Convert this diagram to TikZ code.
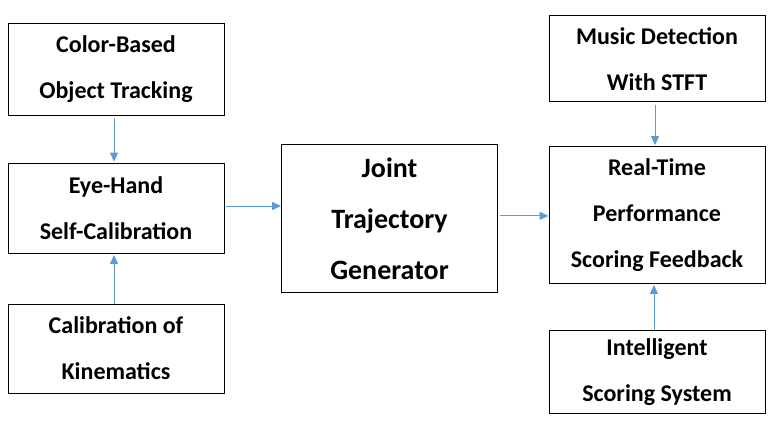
\documentclass[tikz,border=0pt]{standalone}
\usepackage{fontspec}
\setmainfont{Carlito}
\usetikzlibrary{arrows.meta,positioning}
\definecolor{linkblue}{HTML}{5B9BD5}

\begin{document}
\begin{tikzpicture}[
x=1pt,y=-1pt,
font=\bfseries\fontsize{24}{46}\selectfont,
block/.style={draw,line width=0.9pt,align=center,inner sep=0pt,minimum width=216pt},
link/.style={-{Triangle[length=9pt,width=8pt]},linkblue,line width=0.9pt}]
    \useasboundingbox (0,0) rectangle (775,431);
    % Draw blocks
    \node[block,minimum height=92pt] (track) at (116,69) {Color-Based\\Object Tracking};
    \node[block,minimum height=90pt] (eyehand) at (116,208) {Eye-Hand\\Self-Calibration};
    \node[block,minimum height=89pt] (kinem) at (116,348.5) {Calibration of\\Kinematics};
    \node[block,minimum height=148pt,font=\bfseries\fontsize{28}{51}\selectfont] (traj) at (389.5,218.3) {Joint\\Trajectory\\Generator};
    \node[block,minimum height=86pt] (music) at (657,58.7) {Music Detection\\With STFT};
    \node[block,minimum height=137pt] (score) at (657,215) {Real-Time\\Performance\\Scoring Feedback};
    \node[block,minimum height=83pt] (intel) at (657,372) {Intelligent\\Scoring System};

    % Draw links
    \draw[link,shorten <=3pt,shorten >=1pt] ([xshift=-2pt]track.south) -- ([xshift=-2pt]eyehand.north);
    \draw[link,shorten >=1.5pt] ([xshift=-2pt]kinem.north) -- ([xshift=-2pt]eyehand.south);
    \draw[link,shorten <=2pt] ([yshift=2pt]eyehand.east) -- ([yshift=2pt]eyehand.east -| traj.west);
    \draw[link,shorten <=2pt] ([yshift=2.4pt]traj.east) -- ([yshift=2.4pt]traj.east -| score.west);
    \draw[link,shorten <=2.5pt,shorten >=1pt] ([xshift=-2pt]music.south) -- ([xshift=-2pt]score.north);
    \draw[link,shorten >=1pt] ([xshift=-3pt]intel.north) -- ([xshift=-3pt]score.south);
\end{tikzpicture}
\end{document}
